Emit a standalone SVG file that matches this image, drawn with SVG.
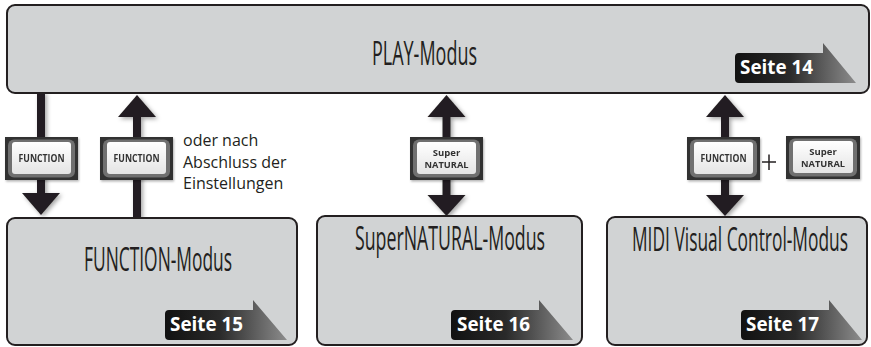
<svg xmlns="http://www.w3.org/2000/svg" width="871" height="347" viewBox="0 0 871 347">
<defs>
<linearGradient id="tagGrad" x1="0" y1="0" x2="1" y2="0">
<stop offset="0" stop-color="#111"/>
<stop offset="0.45" stop-color="#2a2a2a"/>
<stop offset="1" stop-color="#8c8c8c"/>
</linearGradient>
<linearGradient id="btnGrad" x1="0" y1="0" x2="0" y2="1">
<stop offset="0" stop-color="#ffffff"/>
<stop offset="1" stop-color="#e4e4e4"/>
</linearGradient>
<filter id="sh" x="-50%" y="-20%" width="200%" height="140%">
<feDropShadow dx="2" dy="2" stdDeviation="2" flood-color="#000" flood-opacity="0.35"/>
</filter>
<filter id="bsh" x="-10%" y="-10%" width="120%" height="130%">
<feDropShadow dx="1" dy="1.5" stdDeviation="1" flood-color="#000" flood-opacity="0.3"/>
</filter>
</defs>
<style>
.box{fill:#d1d3d4;stroke:#231f20;stroke-width:2;}
.title{font-family:"Open Sans","Noto Sans",sans-serif;font-size:33px;fill:#231f20;}
.tag{fill:url(#tagGrad);}
.tagt{font-family:"Open Sans","Noto Sans",sans-serif;font-weight:bold;font-size:19px;fill:#fff;}
.arr{fill:#231f20;}
.bo{fill:#333;}
.br{fill:#6f6f6f;}
.bi{fill:url(#btnGrad);}
.bt{font-family:"Open Sans","Noto Sans",sans-serif;font-weight:bold;font-size:10px;fill:#333;text-anchor:middle;}
.bt2{font-family:"Open Sans","Noto Sans",sans-serif;font-weight:bold;font-size:9.5px;fill:#333;text-anchor:middle;}
.note{font-family:"Open Sans","Noto Sans",sans-serif;font-size:16px;fill:#231f20;}
</style>

<g id="connectors" filter="url(#sh)">
<!-- PLAY -> FUNCTION -->
<rect class="arr" x="37" y="92" width="8" height="103"/>
<polygon class="arr" points="22,193 60,193 41,215"/>
<!-- FUNCTION -> PLAY -->
<rect class="arr" x="133" y="115" width="8" height="104"/>
<polygon class="arr" points="118,117 156,117 137,95"/>
<!-- PLAY <-> SuperNATURAL -->
<rect class="arr" x="442.5" y="115" width="8" height="82"/>
<polygon class="arr" points="427.5,117 465.5,117 446.5,95"/>
<polygon class="arr" points="427.5,195 465.5,195 446.5,216"/>
<!-- PLAY <-> MIDI -->
<rect class="arr" x="721" y="115" width="8" height="82"/>
<polygon class="arr" points="706,117 744,117 725,95"/>
<polygon class="arr" points="706,195 744,195 725,216"/>
</g>

<g id="btn-function-1" filter="url(#bsh)">
<rect class="bo" x="5" y="137" width="73" height="43"/>
<rect class="br" x="8" y="139.5" width="67" height="38" rx="6"/>
<rect class="bi" x="12" y="142" width="59" height="32" rx="3"/>
<text class="bt" x="41.5" y="162" textLength="46" lengthAdjust="spacingAndGlyphs">FUNCTION</text>
</g>
<g id="btn-function-2" filter="url(#bsh)">
<rect class="bo" x="100" y="137" width="73" height="43"/>
<rect class="br" x="103" y="139.5" width="67" height="38" rx="6"/>
<rect class="bi" x="107" y="142" width="59" height="32" rx="3"/>
<text class="bt" x="136.5" y="162" textLength="46" lengthAdjust="spacingAndGlyphs">FUNCTION</text>
</g>
<g id="note">
<text class="note" x="183" y="145.5">oder nach</text>
<text class="note" x="183" y="167.5">Abschluss der</text>
<text class="note" x="183" y="189">Einstellungen</text>
</g>
<g id="btn-supernatural-1" filter="url(#bsh)">
<rect class="bo" x="410" y="137" width="73" height="43"/>
<rect class="br" x="413" y="139.5" width="67" height="38" rx="6"/>
<rect class="bi" x="417" y="142" width="59" height="32" rx="3"/>
<text class="bt2" x="446.5" y="155.5">Super</text>
<text class="bt2" x="446.5" y="168" textLength="44" lengthAdjust="spacingAndGlyphs">NATURAL</text>
</g>
<g id="btn-function-3" filter="url(#bsh)">
<rect class="bo" x="687" y="137" width="73" height="43"/>
<rect class="br" x="690" y="139.5" width="67" height="38" rx="6"/>
<rect class="bi" x="694" y="142" width="59" height="32" rx="3"/>
<text class="bt" x="723.5" y="162" textLength="46" lengthAdjust="spacingAndGlyphs">FUNCTION</text>
</g>
<g id="plus">
<line x1="762" y1="162" x2="776" y2="162" stroke="#231f20" stroke-width="1.5"/>
<line x1="769" y1="154.5" x2="769" y2="170" stroke="#231f20" stroke-width="1.5"/>
</g>
<g id="btn-supernatural-2" filter="url(#bsh)">
<rect class="bo" x="786" y="136" width="74" height="43"/>
<rect class="br" x="789" y="138.5" width="68" height="38" rx="6"/>
<rect class="bi" x="793" y="141" width="60" height="32" rx="3"/>
<text class="bt2" x="823" y="154.5">Super</text>
<text class="bt2" x="823" y="167" textLength="44" lengthAdjust="spacingAndGlyphs">NATURAL</text>
</g>

<g id="play-modus">
<rect class="box" x="7" y="5" width="862" height="88" rx="8"/>
<text class="title" transform="translate(372,65) scale(0.55,1)" x="0" y="0" textLength="190.9" lengthAdjust="spacingAndGlyphs">PLAY-Modus</text>
<path class="tag" d="M739,53 H823 V43 L856,83 H739 Q735,83 735,79 V57 Q735,53 739,53 Z"/>
<text class="tagt" x="740" y="74" textLength="73" lengthAdjust="spacingAndGlyphs">Seite 14</text>
</g>

<g id="function-modus">
<rect class="box" x="7" y="218" width="290" height="127" rx="8"/>
<text class="title" transform="translate(84,271) scale(0.55,1)" x="0" y="0" textLength="269.1" lengthAdjust="spacingAndGlyphs">FUNCTION-Modus</text>
<path class="tag" d="M169,310 H253 V300 L287,340 H169 Q165,340 165,336 V314 Q165,310 169,310 Z"/>
<text class="tagt" x="170" y="331" textLength="73" lengthAdjust="spacingAndGlyphs">Seite 15</text>
</g>

<g id="supernatural-modus">
<rect class="box" x="317" y="216" width="265" height="129" rx="8"/>
<text class="title" transform="translate(355,250) scale(0.55,1)" x="0" y="0" textLength="345.5" lengthAdjust="spacingAndGlyphs">SuperNATURAL-Modus</text>
<path class="tag" d="M455,310 H539 V300 L573,340 H455 Q451,340 451,336 V314 Q451,310 455,310 Z"/>
<text class="tagt" x="457" y="331" textLength="73" lengthAdjust="spacingAndGlyphs">Seite 16</text>
</g>

<g id="midi-modus">
<rect class="box" x="607" y="217" width="260" height="128" rx="8"/>
<text class="title" transform="translate(632,251) scale(0.55,1)" x="0" y="0" textLength="392.7" lengthAdjust="spacingAndGlyphs">MIDI Visual Control-Modus</text>
<path class="tag" d="M745,310 H829 V300 L862,340 H745 Q741,340 741,336 V314 Q741,310 745,310 Z"/>
<text class="tagt" x="746" y="331" textLength="73" lengthAdjust="spacingAndGlyphs">Seite 17</text>
</g>
</svg>
